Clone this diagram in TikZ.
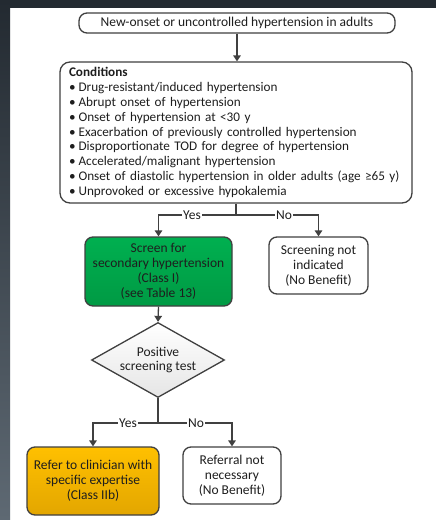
\documentclass[tikz,border=0pt]{standalone}
\usepackage{fontspec}
\setmainfont{Carlito}
\usetikzlibrary{shapes.geometric,arrows.meta}
\definecolor{linegray}{HTML}{404040}
\definecolor{framedark}{HTML}{232A31}
\definecolor{framelight}{HTML}{5E6973}
\definecolor{greentop}{HTML}{00B050}
\definecolor{greenbot}{HTML}{009A44}
\definecolor{goldtop}{HTML}{FFC000}
\definecolor{goldbot}{HTML}{E3A600}
\definecolor{txt}{HTML}{1E1E1E}
\begin{document}
\begin{tikzpicture}[x=1pt,y=-1pt,
  box/.style={draw=linegray, line width=1.3pt, rounded corners=8pt, align=center,
    font=\fontsize{13.5}{14.8}\selectfont, text=txt, inner sep=0pt},
  conn/.style={draw=linegray, line width=1.3pt},
  arr/.style={conn, -{Triangle[length=6pt,width=7.5pt]}},
  lab/.style={fill=white, inner sep=1pt, text=txt, font=\fontsize{13.5}{14}\selectfont}
]
\useasboundingbox (0,0) rectangle (436,520);
\fill[white] (0,0) rectangle (436,520);
\fill[framedark] (0,0) rectangle (436,8);
\shade[top color=framedark, bottom color=framelight] (0,0) rectangle (10,520);

\node[box, minimum width=316pt, minimum height=20pt] (top) at (237,23)
  {New-onset or uncontrolled hypertension in adults};
\node[box, rounded corners=10pt, minimum width=352pt, minimum height=141pt,
  text width=334pt, align=left, font=\fontsize{13.2}{14.8}\selectfont] (cond) at (236,132.5)
  {\textbf{Conditions}\\
   •\hspace{3pt}Drug-resistant/induced hypertension\\
   •\hspace{3pt}Abrupt onset of hypertension\\
   •\hspace{3pt}Onset of hypertension at <30 y\\
   •\hspace{3pt}Exacerbation of previously controlled hypertension\\
   •\hspace{3pt}Disproportionate TOD for degree of hypertension\\
   •\hspace{3pt}Accelerated/malignant hypertension\\
   •\hspace{3pt}Onset of diastolic hypertension in older adults (age ≥65 y)\\
   •\hspace{3pt}Unprovoked or excessive hypokalemia};
\node[box, top color=greentop, bottom color=greenbot, minimum width=147pt, minimum height=69pt] (screen) at (158.5,271.5)
  {Screen for\\secondary hypertension\\(Class I)\\(see Table 13)};
\node[box, fill=white, minimum width=99pt, minimum height=57pt] (nb1) at (318.5,265.5)
  {Screening not\\indicated\\(No Benefit)};
\node[box, diamond, rounded corners=0pt, top color=white, bottom color=white!90!black, aspect=1.77, minimum width=133pt, minimum height=75pt] (test) at (158,360)
  {Positive\\screening test};
\node[box, top color=goldtop, bottom color=goldbot, minimum width=132pt, minimum height=68pt] (refer) at (93,481)
  {Refer to clinician with\\specific expertise\\(Class IIb)};
\node[box, fill=white, minimum width=98pt, minimum height=57pt] (nb2) at (232,475.5)
  {Referral not\\necessary\\(No Benefit)};

\draw[arr] (top.south) -- (top.south |- cond.north);
\coordinate (j1) at (236,215);
\draw[conn] (cond.south) -- (j1);
\draw[arr] (j1) -| (screen.north);
\draw[arr] (j1) -| (nb1.north);
\node[lab] (yes1) at (192,215) {Yes};
\node[lab] (no1) at (284,215) {No};
\draw[arr] (screen.south) -- (test.north);
\coordinate (j2) at (158,423);
\draw[conn] (test.south) -- (j2);
\draw[arr] (j2) -| (refer.north);
\draw[arr] (j2) -| (nb2.north);
\node[lab] (yes2) at (128,423) {Yes};
\node[lab] (no2) at (196,423) {No};
\end{tikzpicture}
\end{document}
